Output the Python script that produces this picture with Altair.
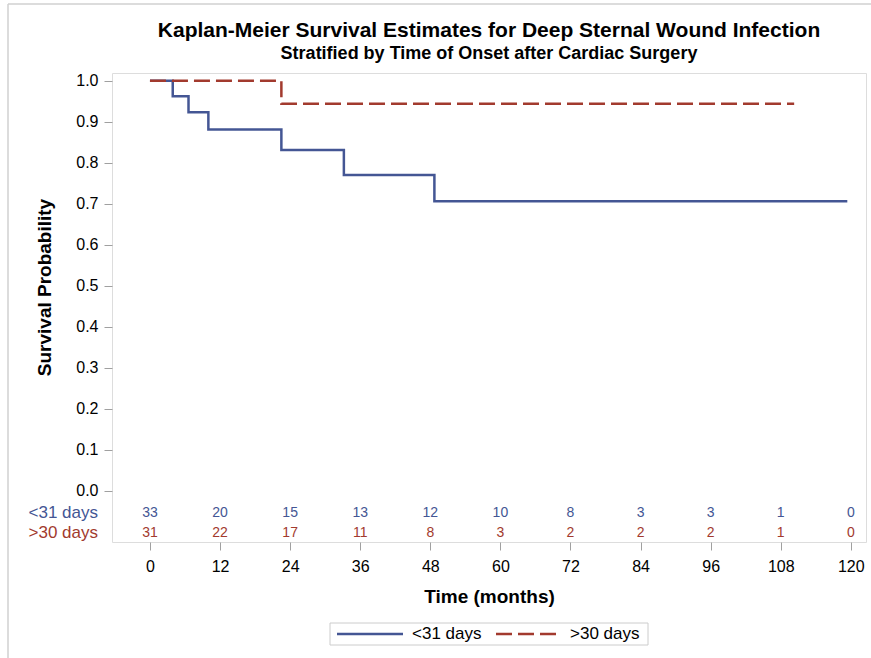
import altair as alt
import pandas as pd

# ---- data ----
groups = ["<31 days", ">30 days"]
blue_time = [0, 3.9, 6.6, 10.0, 22.5, 33.2, 48.7, 119.4]
blue_surv = [1.0, 0.962, 0.923, 0.881, 0.831, 0.770, 0.706, 0.706]
red_time = [0, 22.5, 110.3]
red_surv = [1.0, 0.944, 0.944]

risk_times = [0, 12, 24, 36, 48, 60, 72, 84, 96, 108, 120]
risk_lt31 = [33, 20, 15, 13, 12, 10, 8, 3, 3, 1, 0]
risk_gt30 = [31, 22, 17, 11, 8, 3, 2, 2, 2, 1, 0]

x_ticks = [0, 12, 24, 36, 48, 60, 72, 84, 96, 108, 120]
y_ticks = [0.0, 0.1, 0.2, 0.3, 0.4, 0.5, 0.6, 0.7, 0.8, 0.9, 1.0]

BLUE = "#445694"
RED = "#A23A2E"
GRAY = "#a0a0a0"
FONT = "Liberation Sans"
DASH = [16, 6]

W, H = 754, 469

curves = pd.DataFrame(
    [{"group": groups[0], "time": t, "surv": s} for t, s in zip(blue_time, blue_surv)]
    + [{"group": groups[1], "time": t, "surv": s} for t, s in zip(red_time, red_surv)]
)
risk1 = pd.DataFrame({"time": risk_times, "n": risk_lt31})
risk2 = pd.DataFrame({"time": risk_times, "n": risk_gt30})

xscale = alt.Scale(domain=[-6.5, 122.6], nice=False, zero=False)
yscale = alt.Scale(domain=[-0.125, 1.0188], nice=False, zero=False)

lines = alt.Chart(curves).mark_line(interpolate="step-after", strokeWidth=2.5).encode(
    x=alt.X("time:Q", scale=xscale, axis=alt.Axis(
        values=x_ticks, title="Time (months)", domain=False, grid=False,
        tickColor=GRAY, tickSize=8, labelFontSize=16, labelPadding=8,
        labelColor="black", titleFontSize=19, titleFontWeight="bold",
        titlePadding=13, titleColor="black", labelFont=FONT, titleFont=FONT)),
    y=alt.Y("surv:Q", scale=yscale, axis=alt.Axis(
        values=y_ticks, format=".1f", title="Survival Probability", domain=False,
        grid=False, tickColor=GRAY, tickSize=8, labelFontSize=16, labelPadding=6,
        labelColor="black", titleFontSize=19, titleFontWeight="bold",
        titlePadding=21, titleY=214, titleColor="black", labelFont=FONT, titleFont=FONT)),
    color=alt.Color("group:N", scale=alt.Scale(domain=groups, range=[BLUE, RED]), legend=None),
    strokeDash=alt.StrokeDash("group:N", scale=alt.Scale(domain=groups, range=[[1, 0], DASH]), legend=None),
)

# at-risk table inside the frame
t1 = alt.Chart(risk1).mark_text(fontSize=14, font=FONT, color=BLUE, baseline="middle").encode(
    x=alt.X("time:Q", scale=xscale), y=alt.value(440.3), text="n:Q")
t2 = alt.Chart(risk2).mark_text(fontSize=14, font=FONT, color=RED, baseline="middle").encode(
    x=alt.X("time:Q", scale=xscale), y=alt.value(460.3), text="n:Q")

l1 = alt.Chart(alt.Data(values=[{"label": groups[0]}])).mark_text(
    fontSize=17, font=FONT, color=BLUE, align="right", baseline="middle").encode(
    x=alt.value(-14), y=alt.value(440.3), text="label:N")
l2 = alt.Chart(alt.Data(values=[{"label": groups[1]}])).mark_text(
    fontSize=17, font=FONT, color=RED, align="right", baseline="middle").encode(
    x=alt.value(-14), y=alt.value(460.3), text="label:N")

# legend box (drawn below the x-axis title)
one = alt.Data(values=[{}])
leg_box = alt.Chart(one).mark_rect(fill="white", stroke="#cccccc", strokeWidth=1).encode(
    x=alt.value(218), x2=alt.value(536), y=alt.value(550), y2=alt.value(572))
leg_blue = alt.Chart(one).mark_rule(color=BLUE, strokeWidth=2.5).encode(
    x=alt.value(225), x2=alt.value(291), y=alt.value(561))
leg_red = alt.Chart(one).mark_rule(color=RED, strokeWidth=2.5, strokeDash=DASH).encode(
    x=alt.value(384), x2=alt.value(445), y=alt.value(561))
leg_t1 = alt.Chart(alt.Data(values=[{"label": groups[0]}])).mark_text(
    fontSize=17, font=FONT, color="black", align="left", baseline="middle").encode(
    x=alt.value(300), y=alt.value(561), text="label:N")
leg_t2 = alt.Chart(alt.Data(values=[{"label": groups[1]}])).mark_text(
    fontSize=17, font=FONT, color="black", align="left", baseline="middle").encode(
    x=alt.value(458), y=alt.value(561), text="label:N")

border_top = alt.Chart(one).mark_rule(color="#d0d0d0", strokeWidth=1.5).encode(
    x=alt.value(-104), x2=alt.value(760), y=alt.value(-69))
border_left = alt.Chart(one).mark_rule(color="#d0d0d0", strokeWidth=1.5).encode(
    x=alt.value(-104), y=alt.value(-69), y2=alt.value(590))

chart = alt.layer(
    border_top, border_left, lines, t1, t2, l1, l2,
    leg_box, leg_blue, leg_red, leg_t1, leg_t2,
).properties(
    width=W, height=H,
    autosize=alt.AutoSizeParams(type="none"),
    padding={"left": 112, "top": 73, "right": 5, "bottom": 116},
    title=alt.TitleParams(
        text="Kaplan-Meier Survival Estimates for Deep Sternal Wound Infection",
        subtitle="Stratified by Time of Onset after Cardiac Surgery",
        fontSize=21, fontWeight="bold", font=FONT, color="black",
        subtitleFontSize=18, subtitleFontWeight="bold", subtitleFont=FONT,
        subtitleColor="black", subtitlePadding=4, anchor="middle", frame="group",
        offset=-60,
    ),
).configure_view(stroke=GRAY, strokeWidth=1).configure(background="white")

chart.save("out.html", embed_options={"renderer": "svg", "actions": False})
